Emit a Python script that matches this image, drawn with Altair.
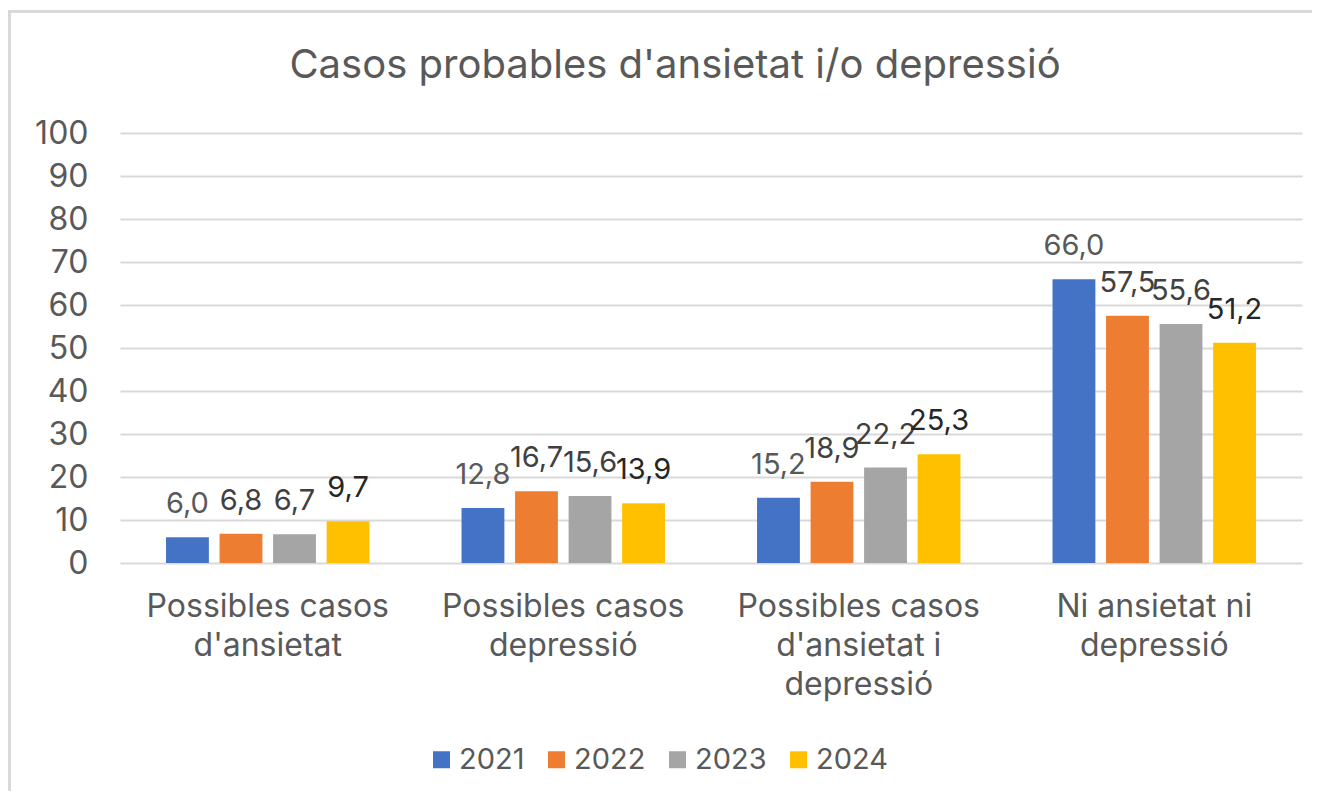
import altair as alt
import pandas as pd

categories = [
    "Possibles casos\nd'ansietat",
    "Possibles casos\ndepressió",
    "Possibles casos\nd'ansietat i\ndepressió",
    "Ni ansietat ni\ndepressió",
]
years = ["2021", "2022", "2023", "2024"]
values_2021 = [6.0, 12.8, 15.2, 66.0]
values_2022 = [6.8, 16.7, 18.9, 57.5]
values_2023 = [6.7, 15.6, 22.2, 55.6]
values_2024 = [9.7, 13.9, 25.3, 51.2]
bar_colors = ["#4472C4", "#ED7D31", "#A5A5A5", "#FFC000"]
label_colors = ["#595959", "#404040", "#404040", "#262626"]

series = [values_2021, values_2022, values_2023, values_2024]
rows = []
for yr, vals in zip(years, series):
    for cat, v in zip(categories, vals):
        rows.append({"cat": cat, "year": yr, "value": v,
                     "label": f"{v:.1f}".replace(".", ",")})
df = pd.DataFrame(rows)

FONT = "Inter"

x_axis = alt.Axis(title=None, labelAngle=0, ticks=False, domain=False,
                  grid=False,
                  labelExpr="split(datum.label, '\\n')",
                  labelBaseline="alphabetic", labelPadding=53,
                  labelLineHeight=39, labelFontSize=32,
                  labelColor="#595959", labelFont=FONT,
                  labelLimit=400)
x_enc = alt.X("cat:N", sort=categories,
              scale=alt.Scale(paddingInner=0, paddingOuter=0),
              axis=x_axis)
xo_enc = alt.XOffset("year:N", sort=years,
                     scale=alt.Scale(paddingInner=0.2, paddingOuter=0.86))

y_enc = alt.Y("value:Q", scale=alt.Scale(domain=[0, 100], nice=False),
              axis=alt.Axis(title=None, values=list(range(0, 101, 10)),
                            ticks=False, domain=False, labelPadding=32,
                            labelFontSize=32, labelColor="#595959",
                            labelFont=FONT, grid=True, gridColor="#d9d9d9",
                            gridWidth=2))

bars = alt.Chart(df).mark_bar().encode(
    x=x_enc,
    xOffset=xo_enc,
    y=y_enc,
    color=alt.Color("year:N", sort=years,
                    scale=alt.Scale(domain=years, range=bar_colors),
                    legend=alt.Legend(title=None, orient="none",
                                      direction="horizontal",
                                      legendX=307, legendY=612,
                                      symbolType="square", symbolSize=289,
                                      symbolStrokeWidth=0, labelFontSize=29,
                                      labelColor="#595959", labelFont=FONT,
                                      labelOffset=3, columnPadding=17)),
)

texts = alt.Chart(df).mark_text(baseline="alphabetic", dy=-24, fontSize=29,
                                font=FONT).encode(
    x=x_enc,
    xOffset=xo_enc,
    y=y_enc,
    text="label:N",
    color=alt.Color("year:N", sort=years,
                    scale=alt.Scale(domain=years, range=label_colors),
                    legend=None),
)

# chart-area frame (decoration, like the spreadsheet chart border)
frame_src = pd.DataFrame({"k": [0]})
frame_top = alt.Chart(frame_src).mark_rule(color="#d9d9d9", strokeWidth=3,
                                           clip=False).encode(
    x=alt.value(-110.5), x2=alt.value(1200), y=alt.value(-121.5))
frame_left = alt.Chart(frame_src).mark_rule(color="#d9d9d9", strokeWidth=3,
                                            clip=False).encode(
    x=alt.value(-110.5), y=alt.value(-123), y2=alt.value(700))

chart = (
    alt.layer(bars, texts, frame_top, frame_left)
    .resolve_scale(color="independent")
    .properties(
        width=1182, height=430,
        view=alt.ViewBackground(stroke="transparent", strokeWidth=0),
        autosize=alt.AutoSizeParams(type="none"),
        padding={"left": 112, "top": 125, "right": 10, "bottom": 228},
        title=alt.TitleParams("Casos probables d'ansietat i/o depressió",
                              fontSize=40, font=FONT, fontWeight="normal",
                              color="#595959", anchor="middle", frame="group",
                              dx=-36, offset=-77),
    )
    .configure_view(stroke="transparent", strokeWidth=0)
    .configure_axis(domain=False)
    .configure(background="white")
)

chart.save("out.html", embed_options={"renderer": "svg", "actions": False})
